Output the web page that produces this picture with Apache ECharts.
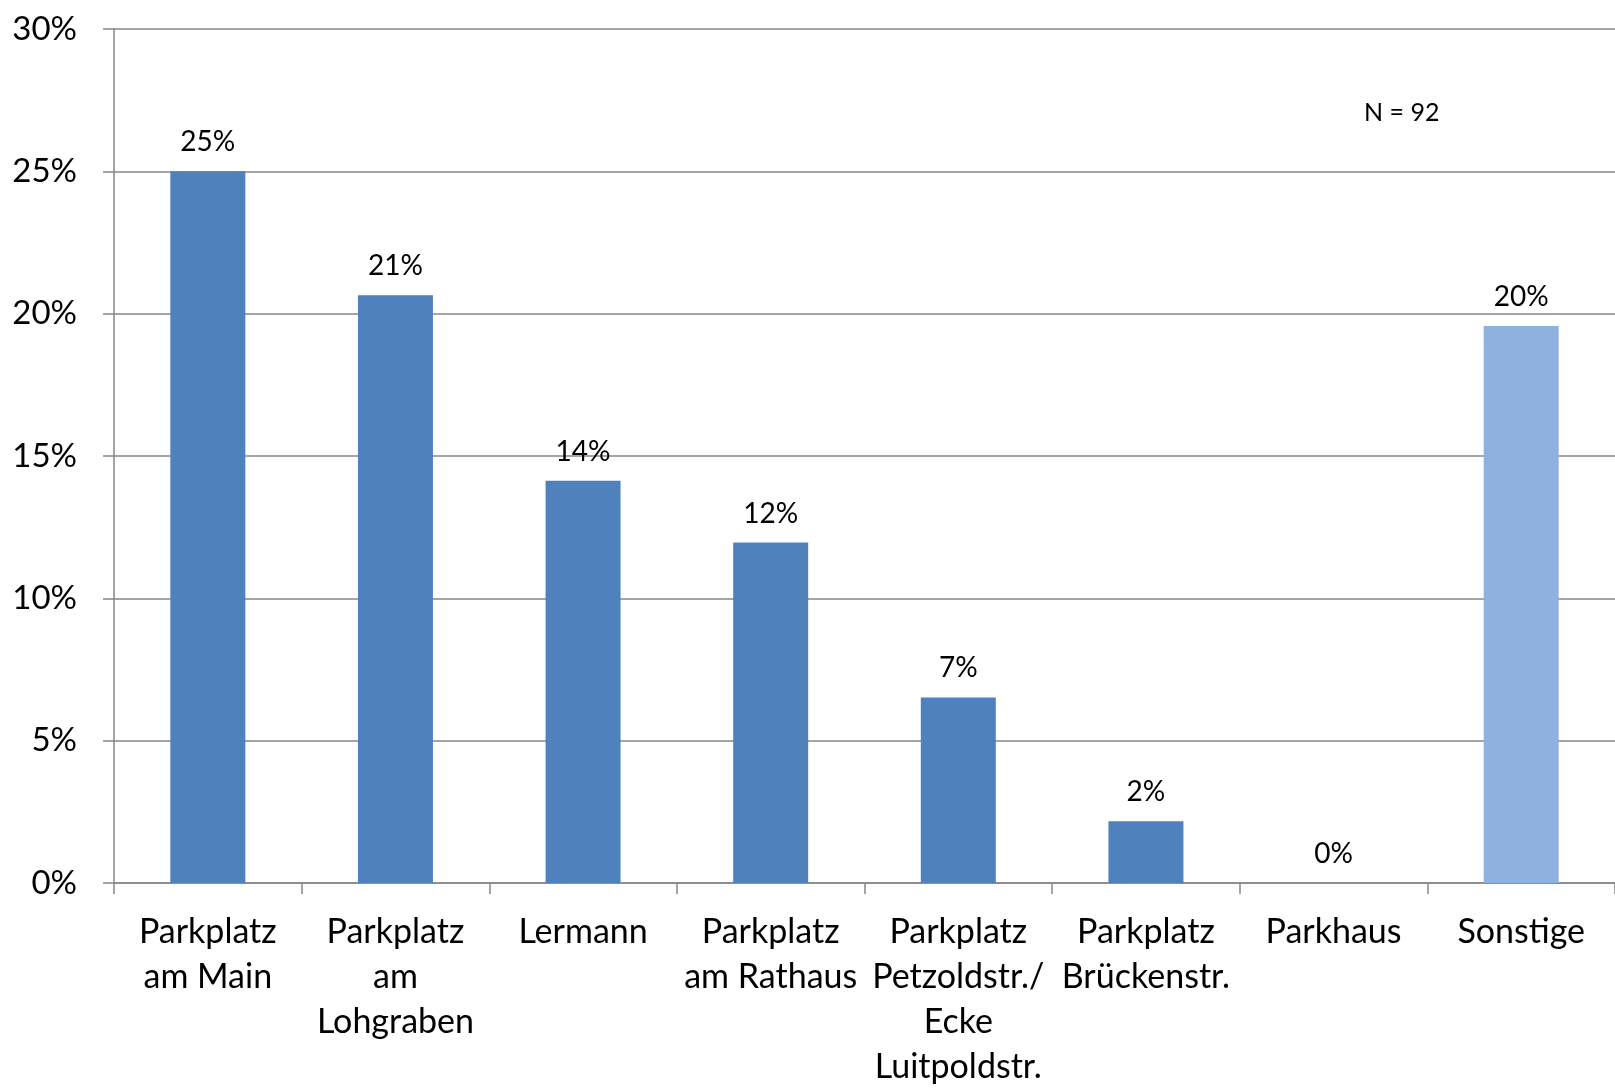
<!DOCTYPE html>
<html>
<head>
<meta charset="utf-8">
<script src="https://cdn.jsdelivr.net/npm/echarts@6/dist/echarts.min.js"></script>
<style>
html,body{margin:0;padding:0;background:#fff;}
#chart{width:1615px;height:1090px;}
</style>
</head>
<body>
<div id="chart"></div>
<script>
const categories = [
  "Parkplatz\nam Main",
  "Parkplatz\nam\nLohgraben",
  "Lermann",
  "Parkplatz\nam Rathaus",
  "Parkplatz\nPetzoldstr./\nEcke\nLuitpoldstr.",
  "Parkplatz\nBrückenstr.",
  "Parkhaus",
  "Sonstige"
];
const values = [25.0, 20.65, 14.13, 11.96, 6.52, 2.17, 0, 19.57];
const barColors = ["#4F81BD","#4F81BD","#4F81BD","#4F81BD","#4F81BD","#4F81BD","#4F81BD","#8EB1DD"];
const yTicks = [0, 5, 10, 15, 20, 25, 30];
const noteText = "N = 92";

const FONT = "Lato";
const chart = echarts.init(document.getElementById('chart'), null, {renderer: 'canvas'});
chart.setOption({
  animation: false,
  backgroundColor: '#fff',
  textStyle: {fontFamily: FONT},
  grid: {left: 114, right: -2, top: 29, bottom: 201, containLabel: false},
  graphic: [{
    type: 'text', left: 1364, top: 100,
    style: {text: noteText, font: '25px ' + FONT, fill: '#000'}
  }],
  xAxis: {
    type: 'category',
    data: categories,
    axisLine: {lineStyle: {color: '#878787', width: 1.5}},
    axisTick: {show: true, length: 11, lineStyle: {color: '#878787', width: 1.5}},
    axisLabel: {color: '#000', fontSize: 34, fontFamily: FONT, lineHeight: 45, margin: 27, interval: 0}
  },
  yAxis: {
    type: 'value',
    min: yTicks[0], max: yTicks[yTicks.length - 1], interval: 5,
    axisLine: {show: true, lineStyle: {color: '#878787', width: 1.5}},
    axisTick: {show: true, length: 11, lineStyle: {color: '#878787', width: 1.5}},
    splitLine: {lineStyle: {color: '#878787', width: 1.5}},
    axisLabel: {color: '#000', fontSize: 33, fontFamily: FONT, margin: 37, formatter: v => v + '%'}
  },
  series: [{
    type: 'bar',
    barWidth: 75,
    data: values.map((v, i) => ({value: v, itemStyle: {color: barColors[i]}})),
    label: {
      show: true, position: 'top', distance: 15,
      color: '#000', fontSize: 28, fontFamily: FONT,
      formatter: p => Math.round(p.value) + '%'
    }
  }]
});
</script>
</body>
</html>
